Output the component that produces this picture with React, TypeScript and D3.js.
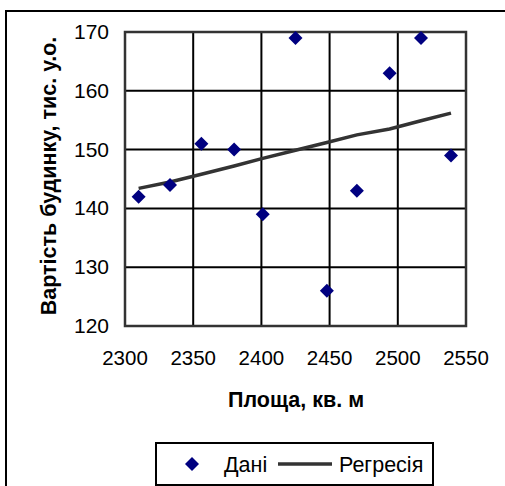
import React from "react";
import * as d3 from "d3";

// Площа будинку (кв. м) і вартість (тис. у.о.)
const area = [2310, 2333, 2356, 2380, 2401, 2425, 2448, 2470, 2494, 2517, 2539];
const price = [142, 144, 151, 150, 139, 169, 126, 143, 163, 169, 149];
// Значення, розраховані за регресією
const fitted = [143.4, 144.5, 145.8, 147.2, 148.5, 149.9, 151.2, 152.5, 153.5, 154.9, 156.2];

const xTicks = [2300, 2350, 2400, 2450, 2500, 2550];
const yTicks = [120, 130, 140, 150, 160, 170];

const xTitle = "Площа, кв. м";
const yTitle = "Вартість будинку, тис. у.о.";
const legendLabels = ["Дані", "Регресія"];

const W = 505;
const H = 486;
const plot = { left: 125, right: 466, top: 32, bottom: 326 };
const FONT = "Arial, 'Liberation Sans', sans-serif";

export default function App() {
  const x = d3.scaleLinear().domain([2300, 2550]).range([plot.left, plot.right]);
  const y = d3.scaleLinear().domain([120, 170]).range([plot.bottom, plot.top]);

  const line = d3
    .line<number>()
    .x((_, i) => x(area[i]))
    .y((d) => y(d));

  const diamond = (cx: number, cy: number, r: number) =>
    `M${cx},${cy - r}L${cx + r},${cy}L${cx},${cy + r}L${cx - r},${cy}Z`;

  return (
    <svg
      width={W}
      height={H}
      style={{ position: "absolute", left: 0, top: 0, background: "#fff" }}
      fontFamily={FONT}
    >
      {/* chart frame */}
      <rect x={6} y={11} width={W + 10} height={H + 10} fill="none" stroke="#000" strokeWidth={2} />

      {/* grid */}
      {yTicks.map((t) => (
        <line key={"gy" + t} x1={plot.left} x2={plot.right} y1={y(t)} y2={y(t)} stroke="#000" strokeWidth={2} />
      ))}
      {xTicks.map((t) => (
        <line key={"gx" + t} x1={x(t)} x2={x(t)} y1={plot.top} y2={plot.bottom} stroke="#000" strokeWidth={2} />
      ))}
      <rect
        x={plot.left}
        y={plot.top}
        width={plot.right - plot.left}
        height={plot.bottom - plot.top}
        fill="none"
        stroke="#333"
        strokeWidth={2.5}
      />

      {/* tick labels */}
      {yTicks.map((t) => (
        <text key={"ty" + t} x={plot.left - 16} y={y(t) + 7} textAnchor="end" fontSize={21} fill="#000">
          {t}
        </text>
      ))}
      {xTicks.map((t) => (
        <text key={"tx" + t} x={x(t)} y={365} textAnchor="middle" fontSize={20.5} fill="#000">
          {t}
        </text>
      ))}

      {/* axis titles */}
      <text x={(plot.left + plot.right) / 2 + 0.5} y={407} textAnchor="middle" fontSize={21.5} fontWeight="bold" fill="#000">
        {xTitle}
      </text>
      <text
        transform={`translate(56,176) rotate(-90)`}
        textAnchor="middle"
        fontSize={21.5}
        fontWeight="bold"
        fill="#000"
      >
        {yTitle}
      </text>

      {/* regression line */}
      <path d={line(fitted) ?? ""} fill="none" stroke="#333" strokeWidth={3.5} />

      {/* data points */}
      {price.map((v, i) => (
        <path key={"p" + i} d={diamond(x(area[i]), y(v), 7)} fill="#000080" />
      ))}

      {/* legend */}
      <rect x={156} y={443} width={277} height={42} fill="#fff" stroke="#000" strokeWidth={2} />
      <path d={diamond(192, 464, 7)} fill="#000080" />
      <text x={224} y={471.5} fontSize={21.5} fill="#000">
        {legendLabels[0]}
      </text>
      <line x1={278} x2={332} y1={464} y2={464} stroke="#333" strokeWidth={3.5} />
      <text x={339} y={471.5} fontSize={21.5} fill="#000">
        {legendLabels[1]}
      </text>
    </svg>
  );
}
